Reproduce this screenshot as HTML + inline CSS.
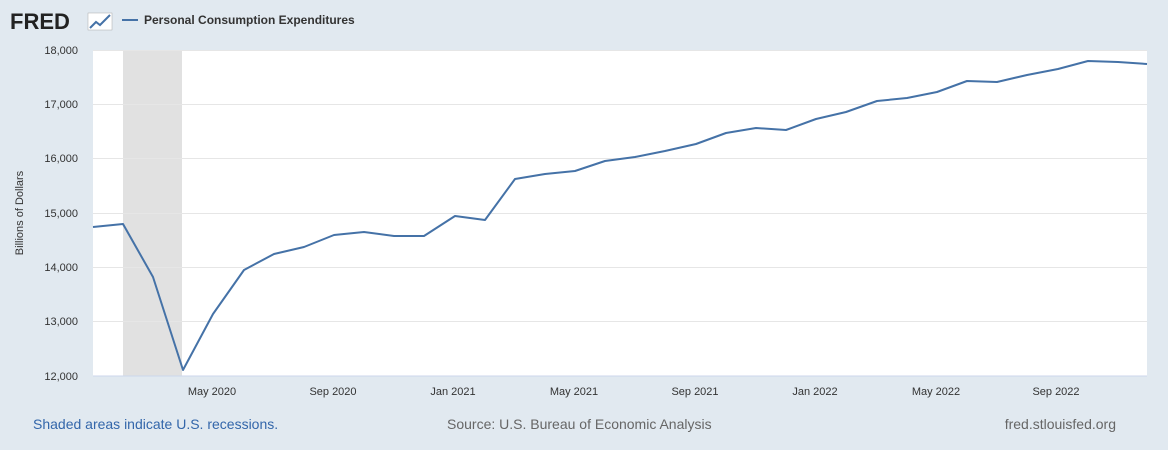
<!DOCTYPE html>
<html><head><meta charset="utf-8"><style>
body{margin:0;width:1168px;height:450px;background:#e1e9f0;font-family:"Liberation Sans",sans-serif;overflow:hidden}
svg{position:absolute;left:0;top:0}
</style></head><body>
<svg width="1168" height="450" xmlns="http://www.w3.org/2000/svg" font-family="Liberation Sans, sans-serif">
<rect x="93" y="50" width="1054" height="326" fill="#fff"/>
<rect x="123" y="50" width="59" height="326" fill="#e1e1e1"/>
<g stroke="#e6e6e6" stroke-width="1">
<line x1="93" y1="50.5" x2="1147" y2="50.5"/>
<line x1="93" y1="104.5" x2="1147" y2="104.5"/>
<line x1="93" y1="158.5" x2="1147" y2="158.5"/>
<line x1="93" y1="213.5" x2="1147" y2="213.5"/>
<line x1="93" y1="267.5" x2="1147" y2="267.5"/>
<line x1="93" y1="321.5" x2="1147" y2="321.5"/>
</g>
<line x1="93" y1="376" x2="1147" y2="376" stroke="#ccd6eb"/>
<g font-size="11" fill="#333" text-anchor="end">
<text x="78" y="54">18,000</text><text x="78" y="108">17,000</text><text x="78" y="162">16,000</text>
<text x="78" y="217">15,000</text><text x="78" y="271">14,000</text><text x="78" y="325">13,000</text><text x="78" y="380">12,000</text>
</g>
<text transform="translate(23,213) rotate(-90)" font-size="11" fill="#333" text-anchor="middle">Billions of Dollars</text>
<g font-size="11" fill="#333" text-anchor="middle">
<text x="212" y="395">May 2020</text><text x="333" y="395">Sep 2020</text><text x="453" y="395">Jan 2021</text>
<text x="574" y="395">May 2021</text><text x="695" y="395">Sep 2021</text><text x="815" y="395">Jan 2022</text>
<text x="936" y="395">May 2022</text><text x="1056" y="395">Sep 2022</text>
</g>
<polyline fill="none" stroke="#4572a7" stroke-width="2" stroke-linejoin="round" points="93,227 123,224 153,277 183,370 213,314 244,270 274,254 304,247 334,235 364,232 394,236 424,236 455,216 485,220 515,179 545,174 575,171 605,161 635,157 665,151 696,144 726,133 756,128 786,130 816,119 846,112 877,101 907,98 937,92 967,81 997,82 1027,75 1058,69 1088,61 1118,62 1147,64"/>
<text x="10" y="29" font-size="22" font-weight="bold" fill="#222">FRED</text>
<rect x="88" y="13" width="24" height="17" fill="#fff" stroke="#aaa" stroke-width="0.5"/>
<polyline points="90,28 96,22 100,25 110,15" fill="none" stroke="#4572a7" stroke-width="2"/>
<line x1="122" y1="20" x2="138" y2="20" stroke="#4572a7" stroke-width="2"/>
<text x="144" y="24" font-size="12" font-weight="bold" fill="#333">Personal Consumption Expenditures</text>
<text x="33" y="429" font-size="14" fill="#3366aa">Shaded areas indicate U.S. recessions.</text>
<text x="447" y="429" font-size="14" fill="#666">Source: U.S. Bureau of Economic Analysis</text>
<text x="1116" y="429" font-size="14" fill="#666" text-anchor="end">fred.stlouisfed.org</text>
</svg>
</body></html>
